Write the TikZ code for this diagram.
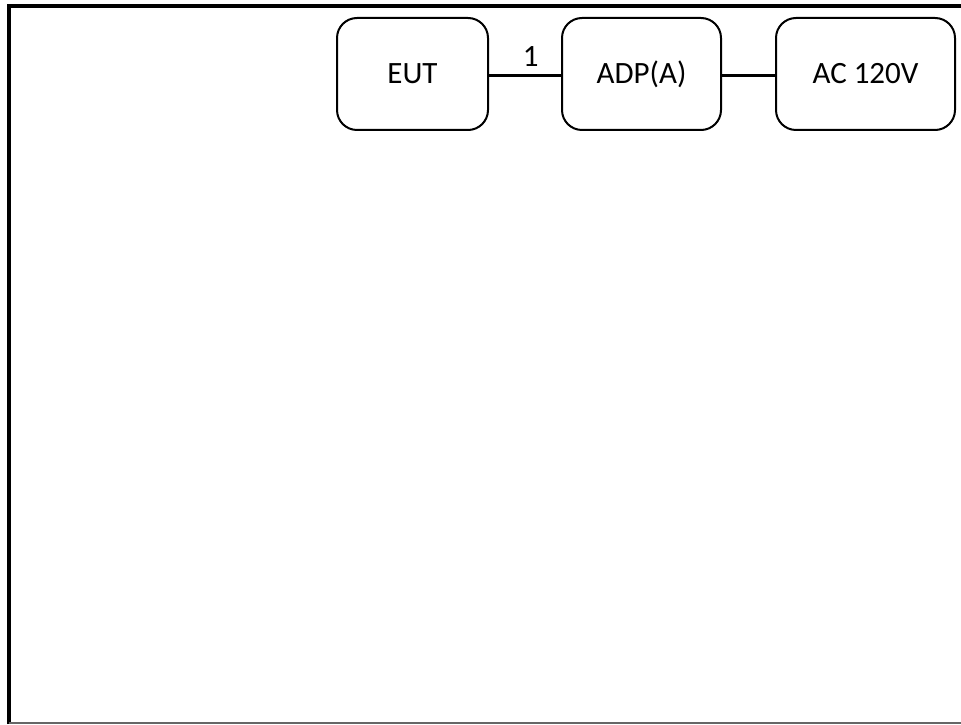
\documentclass[tikz,border=0pt]{standalone}
\usepackage{fontspec}
\setmainfont{Carlito}
\begin{document}
\begin{tikzpicture}[x=1pt, y=1pt,
	unit/.style={draw, rounded corners=20pt, line width=2pt, minimum height=112pt, font=\fontsize{31}{36}\selectfont},
	cable/.style={line width=3pt}]
	\useasboundingbox (0,0) rectangle (961,724);
	% frame: thick left and top, thin grey bottom
	\draw[line width=4pt] (9,0) -- (9,718) -- (961,718);
	\draw[line width=1.5pt, black!60] (9,1) -- (961,1);
	% units in a row along the top
	\node[unit, minimum width=151pt] (eut) at (412.5,650) {EUT};
	\node[unit, minimum width=159pt] (adp) at (641.5,650) {ADP(A)};
	\node[unit, minimum width=179pt] (ac) at (865.5,650) {AC 120V};
	% cables
	\draw[cable] ([yshift=-2pt]eut.east) -- node[pos=0.58, above, yshift=5pt, font=\fontsize{31}{36}\selectfont] {1} ([yshift=-2pt]adp.west);
	\draw[cable] ([yshift=-2pt]adp.east) -- ([yshift=-2pt]ac.west);
\end{tikzpicture}
\end{document}
